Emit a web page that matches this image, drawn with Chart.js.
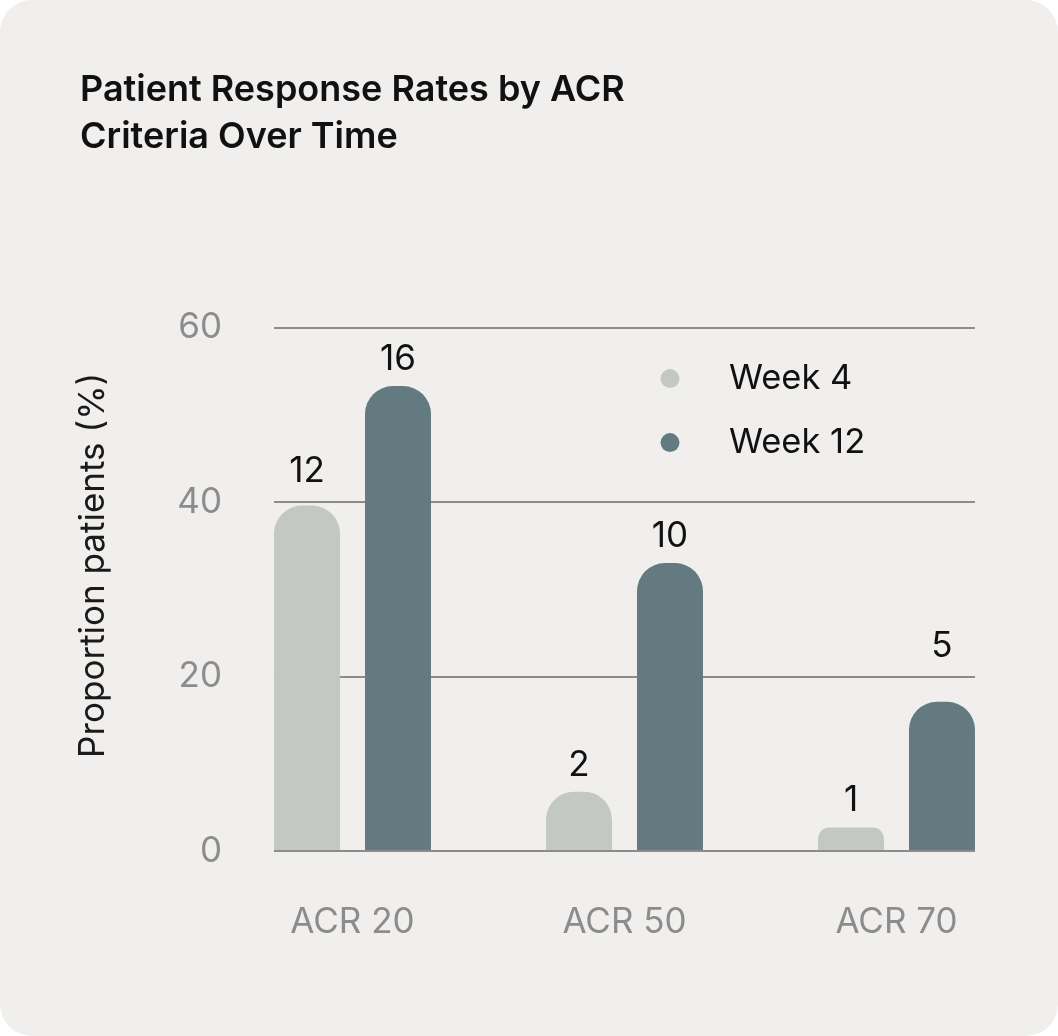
<!DOCTYPE html>
<html>
<head>
<meta charset="utf-8">
<script src="https://cdn.jsdelivr.net/npm/chart.js@4.4.1/dist/chart.umd.min.js"></script>
<style>
  html, body { margin: 0; padding: 0; background: #ffffff; }
  .card {
    width: 1058px; height: 1036px;
    background: #f0efed;
    border-radius: 32px;
    position: relative;
  }
  canvas { display: block; }
</style>
</head>
<body>
<div class="card">
  <canvas id="acr-chart" width="1058" height="1036"></canvas>
</div>
<script>
// data
var categories = ['ACR 20', 'ACR 50', 'ACR 70'];
var seriesNames = ['Week 4', 'Week 12'];
var week4Values = [39.6, 6.8, 2.7];
var week12Values = [53.3, 33.0, 17.1];
var week4Counts = ['12', '2', '1'];
var week12Counts = ['16', '10', '5'];
var yTicks = [0, 20, 40, 60];

var FONT = 'Inter, "Noto Sans", sans-serif';
var LIGHT = '#c4c8c3';
var DARK = '#627a80';

// bar labels above each bar, nudged above a gridline when they would sit on it
var barCountLabels = {
    id: 'barCountLabels',
    afterDatasetsDraw: function(chart) {
        var c = chart.ctx;
        var y = chart.scales.y;
        var gridPx = yTicks.map(function(v) { return y.getPixelForValue(v); });
        var counts = [week4Counts, week12Counts];
        c.save();
        c.font = '35px ' + FONT;
        c.fillStyle = '#111111';
        c.textAlign = 'center';
        c.textBaseline = 'alphabetic';
        chart.data.datasets.forEach(function(ds, di) {
            chart.getDatasetMeta(di).data.forEach(function(bar, i) {
                var bottom = bar.y - 16;
                var top = bottom - 26;
                gridPx.forEach(function(g) {
                    if (g > top && g < bar.y) bottom = g - 20;
                });
                c.fillText(counts[di][i], bar.x, bottom);
            });
        });
        c.restore();
    }
};

// legend drawn inside the plot, top right
var innerLegend = {
    id: 'innerLegend',
    afterDraw: function(chart) {
        var c = chart.ctx;
        var a = chart.chartArea;
        c.save();
        c.font = '34.5px ' + FONT;
        c.textBaseline = 'middle';
        c.textAlign = 'left';
        chart.data.datasets.forEach(function(ds, i) {
            var cy = a.top + 99 + i * 64;
            c.beginPath();
            c.fillStyle = ds.backgroundColor;
            c.arc(a.left + 396, cy, 9.5, 0, Math.PI * 2);
            c.fill();
            c.fillStyle = '#111111';
            c.fillText(ds.label, a.left + 455, cy);
        });
        c.restore();
    }
};

var ctx = document.getElementById('acr-chart');
new Chart(ctx.getContext('2d'), {
    type: 'bar',
    data: {
        datasets: [
            {
                label: seriesNames[0],
                data: week4Values.map(function(v, i) { return { x: i, y: v }; }),
                backgroundColor: LIGHT,
                borderSkipped: 'bottom',
                borderRadius: { topLeft: 28, topRight: 28 }
            },
            {
                label: seriesNames[1],
                data: week12Values.map(function(v, i) { return { x: i, y: v }; }),
                backgroundColor: DARK,
                borderSkipped: 'bottom',
                borderRadius: { topLeft: 28, topRight: 28 }
            }
        ]
    },
    options: {
        responsive: false,
        animation: false,
        categoryPercentage: 0.669,
        barPercentage: 0.725,
        layout: { padding: { left: 80, right: 83, top: 50, bottom: 43 } },
        scales: {
            x: {
                type: 'linear',
                offset: false,
                min: -0.2886,
                max: 2.2886,
                afterBuildTicks: function(scale) {
                    scale.ticks = categories.map(function(c, i) { return { value: i }; });
                },
                grid: { display: false, drawTicks: false, offset: false },
                border: { display: false },
                ticks: {
                    padding: 50,
                    maxRotation: 0,
                    autoSkip: false,
                    color: '#8c8c8c',
                    font: { family: FONT, size: 35 },
                    callback: function(value) { return categories[value]; }
                }
            },
            y: {
                min: 0,
                max: 65.5,
                afterBuildTicks: function(scale) {
                    scale.ticks = yTicks.map(function(v) { return { value: v }; });
                },
                afterFit: function(scale) { scale.width = 194; },
                grid: { color: '#8c8c8c', lineWidth: 2, drawTicks: false },
                border: { display: false },
                ticks: {
                    padding: 52,
                    color: '#8c8c8c',
                    font: { family: FONT, size: 35 }
                },
                title: {
                    display: true,
                    text: 'Proportion patients (%)',
                    color: '#1a1a1a',
                    padding: { top: -4, bottom: 0 },
                    font: { family: FONT, size: 35, lineHeight: 1 }
                }
            }
        },
        plugins: {
            legend: { display: false },
            tooltip: { enabled: false },
            title: {
                display: true,
                align: 'start',
                text: ['Patient Response Rates by ACR', 'Criteria Over Time'],
                color: '#111111',
                padding: { top: 17, bottom: 119 },
                font: { family: FONT, size: 36, weight: '600', lineHeight: 1.3 }
            }
        }
    },
    plugins: [barCountLabels, innerLegend]
});
</script>
</body>
</html>
